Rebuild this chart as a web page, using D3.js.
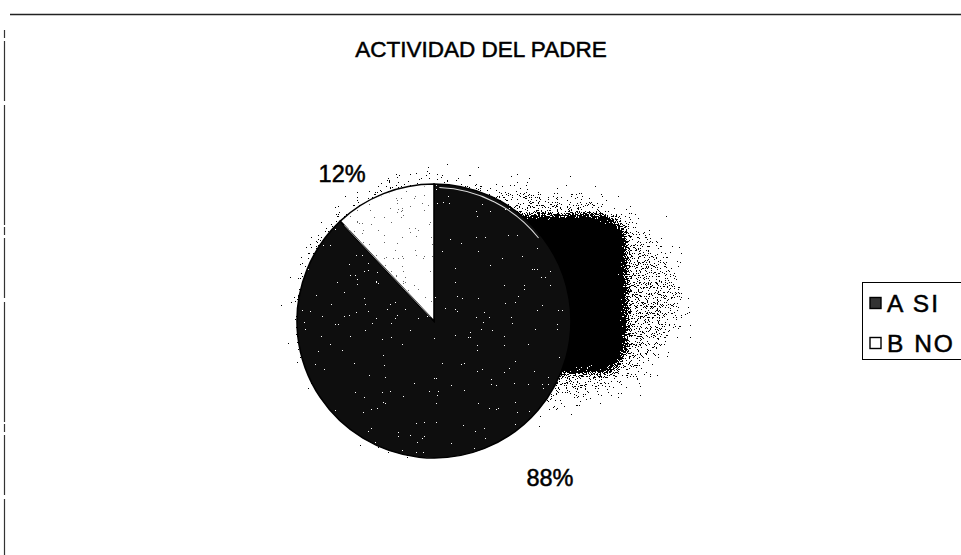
<!DOCTYPE html>
<html>
<head>
<meta charset="utf-8">
<script src="https://cdn.jsdelivr.net/npm/d3@7"></script>
<style>
  html, body { margin: 0; padding: 0; background: #fff; }
  svg { display: block; }
  text { font-family: "Liberation Sans", Arial, sans-serif; fill: #000; stroke: #000; stroke-width: 0.5px; }
</style>
</head>
<body>
<div id="chart"></div>
<script>
const title = 'ACTIVIDAD DEL PADRE';
const categories = ['A SI', 'B NO'];
const values = [88, 12];
const sliceFills = ['#0e0e0e', '#ffffff'];

const width = 961;
const height = 555;
const cx = 434;
const cy = 321;
const radius = 137;

const svg = d3.select('#chart').append('svg')
  .attr('width', width)
  .attr('height', height)
  .attr('viewBox', [0, 0, width, height]);

const defs = svg.append('defs');

// scanned-print look: blurred shape thresholded against noise
const dither = (id, blur, gain, bias, seed) => {
  const f = defs.append('filter').attr('id', id)
    .attr('x', '-60%').attr('y', '-60%').attr('width', '220%').attr('height', '220%');
  f.append('feGaussianBlur').attr('in', 'SourceAlpha').attr('stdDeviation', blur).attr('result', 'blur');
  f.append('feTurbulence').attr('type', 'fractalNoise').attr('baseFrequency', 0.9)
    .attr('numOctaves', 2).attr('seed', seed).attr('result', 'noise');
  f.append('feColorMatrix').attr('in', 'noise').attr('type', 'matrix')
    .attr('values', '0 0 0 0 0  0 0 0 0 0  0 0 0 0 0  1 0 0 0 0').attr('result', 'noiseA');
  f.append('feComposite').attr('in', 'blur').attr('in2', 'noiseA').attr('operator', 'arithmetic')
    .attr('k1', 0).attr('k2', gain).attr('k3', -gain).attr('k4', bias).attr('result', 'th');
  f.append('feColorMatrix').attr('in', 'th').attr('type', 'matrix')
    .attr('values', '0 0 0 0 0  0 0 0 0 0  0 0 0 0 0  0 0 0 1 0').attr('result', 'th2');
  const ct = f.append('feComponentTransfer').attr('in', 'th2');
  ct.append('feFuncA').attr('type', 'discrete').attr('tableValues', '0 1');
};
dither('ditherTight', 10, 3, 0.6, 4);
dither('ditherWide', 20, 6, 0.98, 7);
dither('ditherDust', 10, 6, 0.98, 9);

// sparse specks over the pie
const specks = (id, color, cut, seed) => {
  const f = defs.append('filter').attr('id', id).attr('x', 0).attr('y', 0).attr('width', 1).attr('height', 1);
  f.append('feTurbulence').attr('type', 'fractalNoise').attr('baseFrequency', 0.85)
    .attr('numOctaves', 2).attr('seed', seed).attr('result', 'noise');
  f.append('feColorMatrix').attr('in', 'noise').attr('type', 'matrix')
    .attr('values', `0 0 0 0 0  0 0 0 0 0  0 0 0 0 0  12 0 0 0 ${-12 * cut}`).attr('result', 'a');
  const ct = f.append('feComponentTransfer').attr('in', 'a').attr('result', 'bin');
  ct.append('feFuncA').attr('type', 'discrete').attr('tableValues', '0 1');
  f.append('feFlood').attr('flood-color', color).attr('result', 'col');
  f.append('feComposite').attr('in', 'col').attr('in2', 'bin').attr('operator', 'in').attr('result', 'dots');
  f.append('feComposite').attr('in', 'dots').attr('in2', 'SourceAlpha').attr('operator', 'in');
};
specks('specksLight', '#ffffff', 0.76, 11);
specks('specksDark', '#666666', 0.72, 13);

// frame remnants from the scan
svg.append('line').attr('x1', 10).attr('x2', width).attr('y1', 14.5).attr('y2', 14.5)
  .attr('stroke', '#222').attr('stroke-width', 1.3);
svg.append('line').attr('x1', 4.5).attr('x2', 4.5).attr('y1', 30).attr('y2', height)
  .attr('stroke', '#333').attr('stroke-width', 1.2).attr('stroke-dasharray', '8 3 60 4 120 2');

svg.append('text')
  .attr('x', 481).attr('y', 57)
  .attr('text-anchor', 'middle')
  .attr('font-size', 22.5)
  .text(title);

const pie = d3.pie().sort(null).value((d) => d.value);
const data = categories.map((c, i) => ({ category: c, value: values[i], fill: sliceFills[i] }));
const arcs = pie(data);
const total = d3.sum(values);

const arc = d3.arc().innerRadius(0).outerRadius(radius);
const labelShift = 0.223;
const labelArc = d3.arc().innerRadius(184).outerRadius(184)
  .startAngle((d) => d.startAngle - labelShift).endAngle((d) => d.endAngle - labelShift);

const g = svg.append('g').attr('transform', `translate(${cx},${cy})`);

// light dust around the pie and grainy shadow to its right
g.append('g').attr('filter', 'url(#ditherDust)')
  .append('circle').attr('cx', -5).attr('cy', -8).attr('r', radius + 6)
  .attr('fill', '#000').attr('fill-opacity', 0.26);
g.append('g').attr('filter', 'url(#ditherWide)')
  .append('ellipse').attr('cx', 85).attr('cy', -22).attr('rx', 175).attr('ry', 118)
  .attr('fill', '#000').attr('fill-opacity', 0.32);
g.append('g').attr('filter', 'url(#ditherTight)')
  .append('rect').attr('x', 62).attr('y', -106).attr('width', 130).attr('height', 158)
  .attr('rx', 24).attr('fill', '#000');

g.selectAll('path.slice')
  .data(arcs)
  .join('path')
  .attr('class', 'slice')
  .attr('d', arc)
  .attr('fill', (d) => d.data.fill)
  .attr('stroke', '#000')
  .attr('stroke-width', 1.6);

g.append('circle').attr('r', radius - 1).attr('fill', '#000').attr('filter', 'url(#specksLight)');
g.append('path').datum(arcs[1]).attr('d', d3.arc().innerRadius(0).outerRadius(radius - 2))
  .attr('fill', '#000').attr('filter', 'url(#specksDark)');

// thin light sheen along the rim and the separator
g.append('path')
  .attr('d', d3.arc().innerRadius(radius - 4).outerRadius(radius - 3).startAngle(0.04).endAngle(0.9)())
  .attr('fill', '#ddd');
const sepAngle = arcs[0].endAngle;
g.append('line')
  .attr('x1', Math.sin(sepAngle) * 8 + 2).attr('y1', -Math.cos(sepAngle) * 8 + 2)
  .attr('x2', Math.sin(sepAngle) * (radius - 3) + 2).attr('y2', -Math.cos(sepAngle) * (radius - 3) + 2)
  .attr('stroke', '#bbb').attr('stroke-width', 0.8);

g.selectAll('text.pct')
  .data(arcs)
  .join('text')
  .attr('class', 'pct')
  .attr('transform', (d) => `translate(${labelArc.centroid(d)})`)
  .attr('text-anchor', 'middle')
  .attr('dx', 12)
  .attr('dy', 13)
  .attr('font-size', 23.5)
  .text((d) => `${Math.round((d.value / total) * 100)}%`);

// legend
const legend = svg.append('g').attr('transform', 'translate(862,282)');
legend.append('rect').attr('x', 0.5).attr('y', 0.5).attr('width', 120).attr('height', 77)
  .attr('fill', '#fff').attr('stroke', '#000').attr('stroke-width', 1);

const item = legend.selectAll('g.item')
  .data(data)
  .join('g')
  .attr('class', 'item')
  .attr('transform', (d, i) => `translate(8,${21 + i * 40})`);
item.append('rect').attr('x', 0).attr('y', -5.5).attr('width', 11).attr('height', 11)
  .attr('fill', (d, i) => (i === 0 ? '#333' : '#fff'))
  .attr('stroke', '#000').attr('stroke-width', 1.4);
item.append('text').attr('x', 17).attr('dy', '0.36em').attr('font-size', 24.5)
  .attr('letter-spacing', 2)
  .text((d) => d.category);
</script>
</body>
</html>
